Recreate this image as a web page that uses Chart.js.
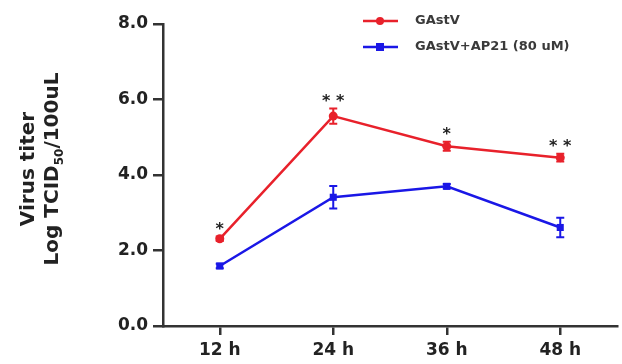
<!DOCTYPE html>
<html lang="en">
<head>
    <meta charset="UTF-8">
    <title>Virus titer</title>
    <script src="https://cdn.jsdelivr.net/npm/chart.js"></script>
    <style>
        body { margin: 0; background: #fff; }
        #wrap { width: 622px; height: 364px; }
    </style>
</head>
<body>
    <div id="wrap"><canvas id="myChart" width="622" height="364"></canvas></div>

    <script>
        // データ
        const hours = [12, 24, 36, 48];
        const gastv = [2.31, 5.56, 4.76, 4.46];
        const gastvErr = [0.06, 0.2, 0.12, 0.1];
        const ap21 = [1.59, 3.41, 3.70, 2.61];
        const ap21Err = [0.06, 0.3, 0.06, 0.26];
        const stars = ['*', '* *', '*', '* *'];
        const yTicks = [0, 2, 4, 6, 8];

        const RED = '#e8212b';
        const BLUE = '#1a17e6';
        const AXIS = '#333333';
        const FONT = '"DejaVu Sans", Arial, sans-serif';

        function pts(vals) {
            return hours.map((h, i) => ({ x: h, y: vals[i] }));
        }

        // エラーバー・有意差・凡例・軸タイトル
        const extras = {
            id: 'extras',
            afterDatasetsDraw(chart) {
                const ctx = chart.ctx;
                const xs = chart.scales.x, ys = chart.scales.y;
                const errs = [gastvErr, ap21Err];
                ctx.save();
                chart.data.datasets.forEach((ds, d) => {
                    ctx.strokeStyle = ds.borderColor;
                    ctx.lineWidth = 2;
                    ds.data.forEach((p, i) => {
                        const x = xs.getPixelForValue(p.x);
                        const top = ys.getPixelForValue(p.y + errs[d][i]);
                        const bot = ys.getPixelForValue(p.y - errs[d][i]);
                        ctx.beginPath();
                        ctx.moveTo(x, top); ctx.lineTo(x, bot);
                        ctx.moveTo(x - 4, top); ctx.lineTo(x + 4, top);
                        ctx.moveTo(x - 4, bot); ctx.lineTo(x + 4, bot);
                        ctx.stroke();
                    });
                });

                // 有意差マーク
                ctx.fillStyle = '#222';
                ctx.font = 'bold 16px ' + FONT;
                ctx.textAlign = 'center';
                ctx.textBaseline = 'alphabetic';
                hours.forEach((h, i) => {
                    const x = xs.getPixelForValue(h);
                    const top = ys.getPixelForValue(gastv[i] + gastvErr[i]);
                    ctx.fillText(stars[i], x, top - 3);
                });

                // 凡例
                const leg = [
                    { label: chart.data.datasets[0].label, color: RED, style: 'circle', y: 21 },
                    { label: chart.data.datasets[1].label, color: BLUE, style: 'rect', y: 47 }
                ];
                ctx.font = 'bold 13px ' + FONT;
                ctx.textAlign = 'left';
                ctx.textBaseline = 'middle';
                leg.forEach(l => {
                    ctx.strokeStyle = l.color;
                    ctx.fillStyle = l.color;
                    ctx.lineWidth = 2.5;
                    ctx.beginPath();
                    ctx.moveTo(363, l.y); ctx.lineTo(398, l.y);
                    ctx.stroke();
                    if (l.style === 'circle') {
                        ctx.beginPath();
                        ctx.arc(380, l.y, 4, 0, Math.PI * 2);
                        ctx.fill();
                    } else {
                        ctx.fillRect(376, l.y - 4, 8, 8);
                    }
                    ctx.fillStyle = '#3a3a3a';
                    ctx.fillText(l.label, 415, l.y);
                });

                // Y軸タイトル
                const cy = 169;
                ctx.fillStyle = '#222';
                ctx.translate(0, cy);
                ctx.rotate(-Math.PI / 2);
                ctx.textBaseline = 'middle';
                ctx.textAlign = 'center';
                ctx.font = 'bold 20px ' + FONT;
                ctx.fillText('Virus titer', 0, 29);
                // Log TCID50/100uL（下付き文字）
                const a = 'Log TCID', b = '50', c = '/100uL';
                const big = 'bold 20px ' + FONT, small = 'bold 12px ' + FONT;
                ctx.font = big; const wa = ctx.measureText(a).width, wc = ctx.measureText(c).width;
                ctx.font = small; const wb = ctx.measureText(b).width;
                let x0 = -(wa + wb + wc) / 2;
                ctx.textAlign = 'left';
                ctx.font = big; ctx.fillText(a, x0, 53);
                ctx.font = small; ctx.fillText(b, x0 + wa, 60);
                ctx.font = big; ctx.fillText(c, x0 + wa + wb, 53);
                ctx.restore();
            }
        };

        new Chart(document.getElementById('myChart'), {
            type: 'line',
            data: {
                datasets: [{
                    label: 'GAstV',
                    data: pts(gastv),
                    borderColor: RED,
                    backgroundColor: RED,
                    borderWidth: 2.5,
                    pointStyle: 'circle',
                    pointRadius: 4.5,
                    pointBorderWidth: 0
                }, {
                    label: 'GAstV+AP21 (80 uM)',
                    data: pts(ap21),
                    borderColor: BLUE,
                    backgroundColor: BLUE,
                    borderWidth: 2.5,
                    pointStyle: 'rect',
                    pointRadius: 5,
                    pointBorderWidth: 0
                }]
            },
            options: {
                responsive: false,
                animation: false,
                layout: { padding: { top: 24, right: 0, left: 0, bottom: 0 } },
                plugins: { legend: { display: false }, tooltip: { enabled: false } },
                scales: {
                    x: {
                        type: 'linear',
                        min: 6,
                        max: 54,
                        afterBuildTicks: s => { s.ticks = hours.map(v => ({ value: v })); },
                        afterFit: s => { s.height = 38; },
                        grid: { drawOnChartArea: false, drawTicks: true, tickLength: 9, color: AXIS, lineWidth: 2.5 },
                        border: { color: AXIS, width: 2.5 },
                        ticks: {
                            callback: v => v + ' h',
                            color: '#222',
                            font: { family: FONT, size: 17, weight: 'bold' },
                            padding: 5,
                            maxRotation: 0
                        }
                    },
                    y: {
                        min: 0,
                        max: 8,
                        afterBuildTicks: s => { s.ticks = yTicks.map(v => ({ value: v })); },
                        afterFit: s => { s.width = 163; },
                        grid: { drawOnChartArea: false, drawTicks: true, tickLength: 10, color: AXIS, lineWidth: 2.5 },
                        border: { color: AXIS, width: 2.5 },
                        ticks: {
                            callback: v => v.toFixed(1),
                            color: '#222',
                            font: { family: FONT, size: 17, weight: 'bold' },
                            padding: 5
                        }
                    }
                }
            },
            plugins: [extras]
        });
    </script>
</body>
</html>
